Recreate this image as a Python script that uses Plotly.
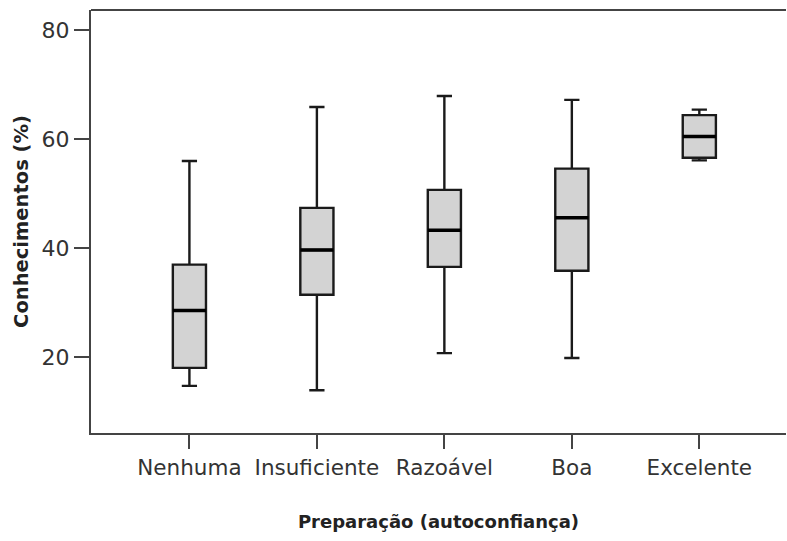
import plotly.graph_objects as go

categories = ["Nenhuma", "Insuficiente", "Razoável", "Boa", "Excelente"]
lower_whisker = [14.8, 14.0, 20.8, 19.9, 56.1]
q1_values = [18.1, 31.5, 36.6, 35.9, 56.6]
median_values = [28.6, 39.7, 43.3, 45.6, 60.5]
q3_values = [37.0, 47.4, 50.7, 54.6, 64.4]
upper_whisker = [56.0, 65.9, 67.9, 67.2, 65.4]

y_ticks = [20, 40, 60, 80]
box_width = 0.26

fig = go.Figure()
fig.add_trace(go.Box(
    x=categories,
    q1=q1_values,
    median=median_values,
    q3=q3_values,
    lowerfence=lower_whisker,
    upperfence=upper_whisker,
    boxpoints=False,
    width=box_width,
    whiskerwidth=0.46,
    fillcolor="#d3d3d3",
    line=dict(color="#1a1a1a", width=2.4),
    hoverinfo="skip",
    showlegend=False,
))

for i, m in enumerate(median_values):
    fig.add_shape(type="line", xref="x", yref="y",
                  x0=i - box_width / 2, x1=i + box_width / 2, y0=m, y1=m,
                  line=dict(color="black", width=3.5))

# top frame line
fig.add_shape(type="line", xref="paper", yref="paper", x0=0, x1=1, y0=1, y1=1,
              line=dict(color="#444444", width=2))

fig.update_layout(
    width=787, height=541,
    margin=dict(l=91, r=1, t=10, b=108),
    plot_bgcolor="white", paper_bgcolor="white",
    font=dict(family="DejaVu Sans", color="#333333"),
    xaxis=dict(
        type="category",
        range=[-0.772, 4.68],
        showgrid=False, zeroline=False,
        showline=True, linecolor="#444444", linewidth=2,
        ticks="outside", ticklen=14, tickwidth=2, tickcolor="#444444",
        tickfont=dict(size=21.5, family="DejaVu Sans", color="#333333"),
        title=dict(text="<b>Preparação (autoconfiança)</b>",
                   font=dict(size=18, family="DejaVu Sans", color="#222222"),
                   standoff=37),
    ),
    yaxis=dict(
        range=[6.16, 83.66],
        tickvals=y_ticks,
        showgrid=False, zeroline=False,
        showline=True, linecolor="#444444", linewidth=2,
        ticks="outside", ticklen=15, tickwidth=2, tickcolor="#444444",
        tickfont=dict(size=22, family="DejaVu Sans", color="#333333"),
        title=dict(text="<b>Conhecimentos (%)</b>",
                   font=dict(size=19.5, family="DejaVu Sans", color="#222222"),
                   standoff=8),
    ),
)

fig.write_html("out.html")
